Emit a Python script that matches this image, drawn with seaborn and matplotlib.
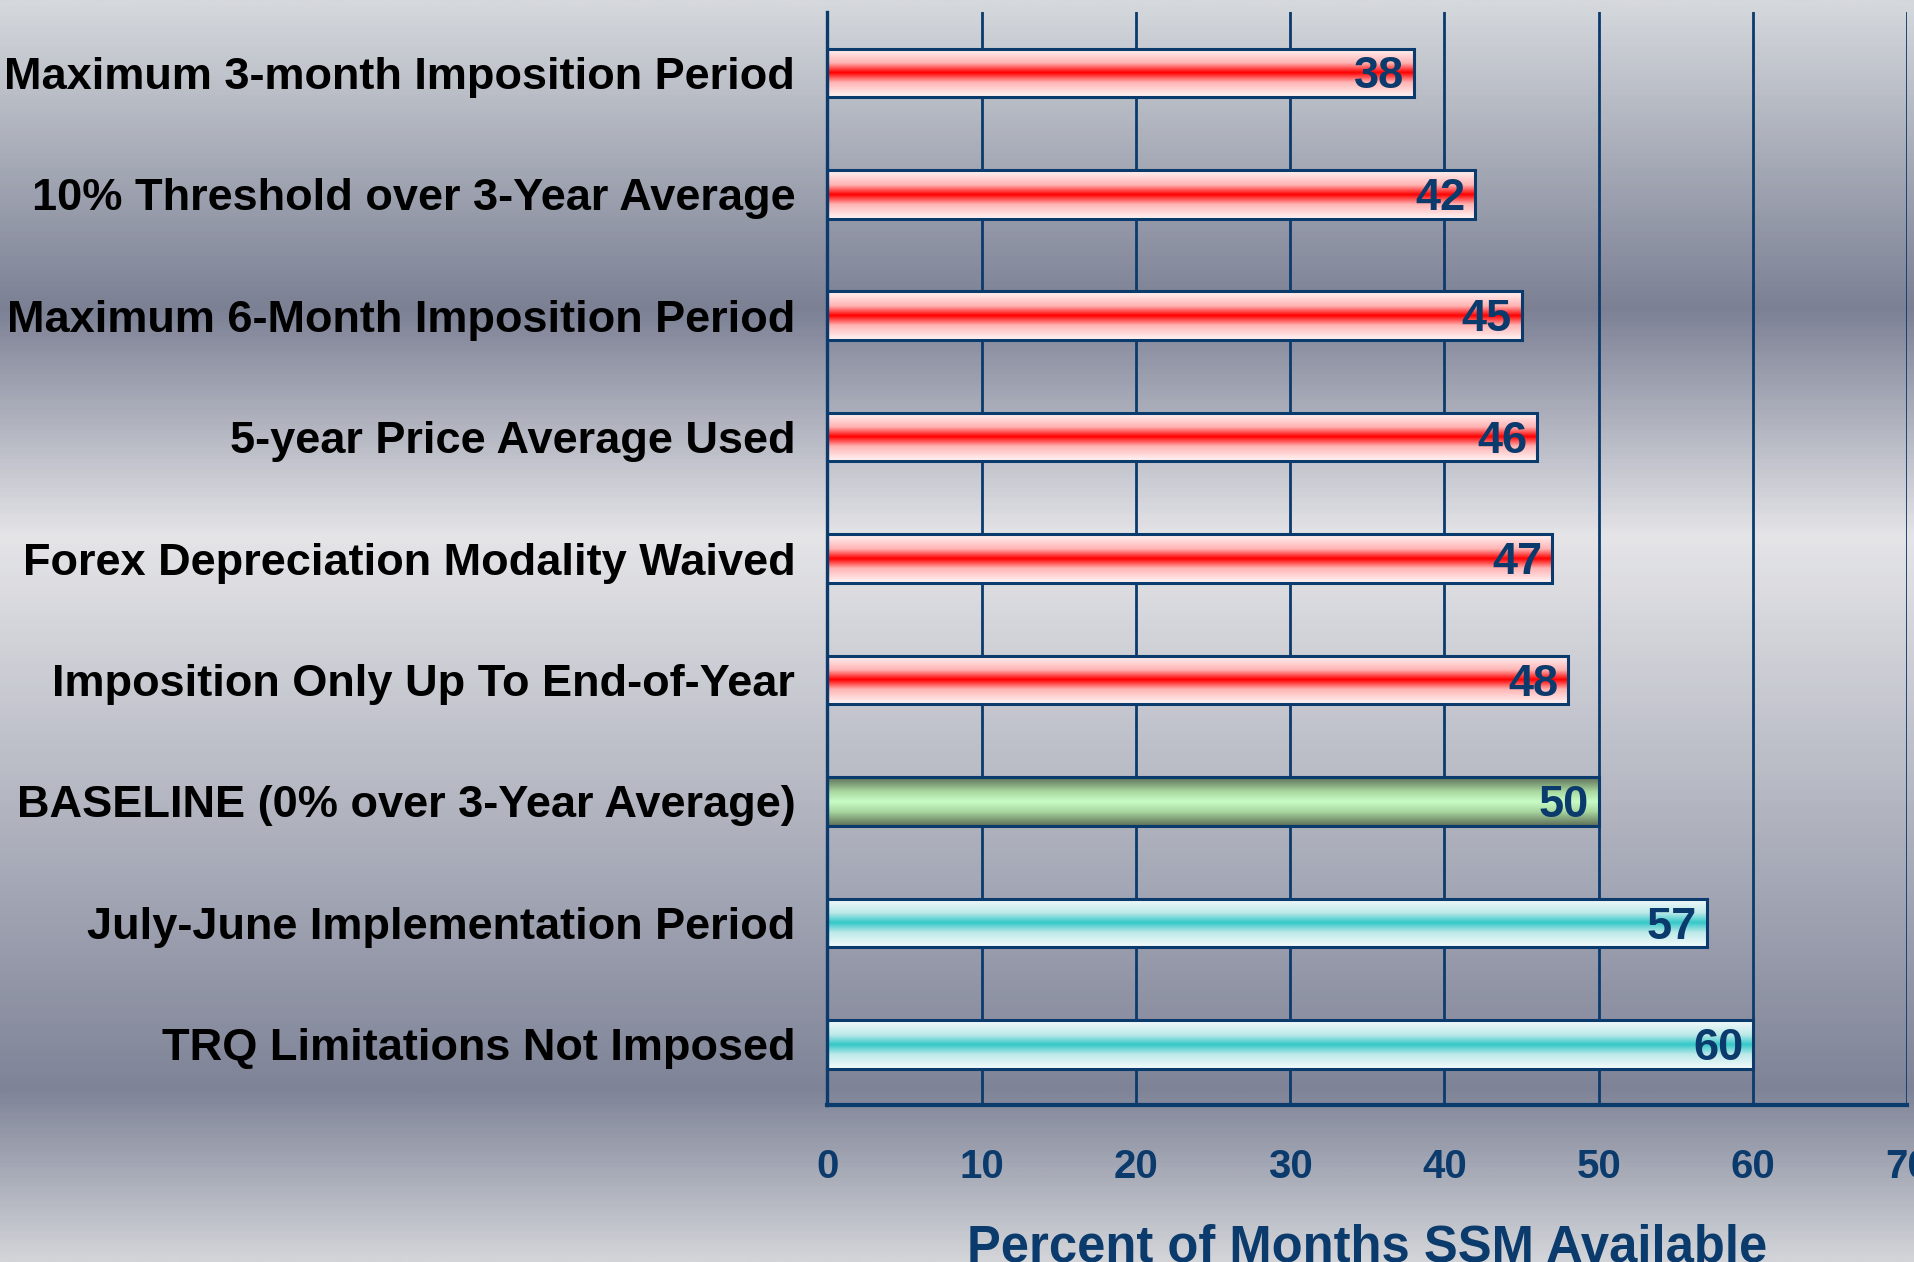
import numpy as np
import pandas as pd
import matplotlib.pyplot as plt
import seaborn as sns
from matplotlib.colors import LinearSegmentedColormap

# data, top to bottom
scenarios = [
    "Maximum 3-month Imposition Period",
    "10% Threshold over 3-Year Average",
    "Maximum 6-Month Imposition Period",
    "5-year Price Average Used",
    "Forex Depreciation Modality Waived",
    "Imposition Only Up To End-of-Year",
    "BASELINE (0% over 3-Year Average)",
    "July-June Implementation Period",
    "TRQ Limitations Not Imposed",
]
pct_months = [38, 42, 45, 46, 47, 48, 50, 57, 60]
group = ["worse"] * 6 + ["baseline"] + ["better"] * 2
x_ticks = [0, 10, 20, 30, 40, 50, 60, 70]

NAVY = "#0b3a6c"

# vertical gradients used to fill the bars (edge -> centre -> edge)
bar_cmaps = {
    "worse": LinearSegmentedColormap.from_list(
        "red", [(0, "#fff6f6"), (0.3, "#ffb4b4"), (0.5, "#ff0000"), (0.7, "#ffb4b4"), (1, "#fff6f6")]),
    "baseline": LinearSegmentedColormap.from_list(
        "green", [(0, "#5d6d56"), (0.3, "#a9d9a1"), (0.5, "#c8fcc6"), (0.7, "#a9d9a1"), (1, "#5d6d56")]),
    "better": LinearSegmentedColormap.from_list(
        "cyan", [(0, "#f6fbfb"), (0.3, "#bde9e9"), (0.5, "#34c8c8"), (0.7, "#bde9e9"), (1, "#f6fbfb")]),
}

bg_cmap = LinearSegmentedColormap.from_list(
    "bg", [(0, "#d5d8dc"), (0.242, "#7b8094"), (0.425, "#e5e5e8"),
           (0.865, "#7e8397"), (1, "#d2d4d8")])


def main():
    df = pd.DataFrame({"scenario": scenarios, "pct": pct_months, "group": group})

    sns.set_style("white")
    plt.rcParams["font.family"] = ["Liberation Sans", "DejaVu Sans"]

    fig = plt.figure(figsize=(19.15, 12.62), dpi=100)

    # background gradient over the whole slide
    bg = fig.add_axes([0, 0, 1, 1], zorder=-10)
    bg.imshow(np.linspace(0, 1, 600)[:, None], cmap=bg_cmap, aspect="auto",
              extent=[0, 1, 0, 1], origin="upper")
    bg.set_axis_off()

    ax = fig.add_axes([0.432, 0.1244, 0.564, 0.866])
    ax.patch.set_alpha(0)

    sns.barplot(data=df, x="pct", y="scenario", orient="h", width=0.4,
                facecolor="none", edgecolor=NAVY, linewidth=2.2, ax=ax, zorder=3)

    grad = np.linspace(0, 1, 200)[:, None]
    for patch, g in zip(ax.patches, df["group"]):
        x0, y0 = patch.get_x(), patch.get_y()
        w, h = patch.get_width(), patch.get_height()
        im = ax.imshow(grad, cmap=bar_cmaps[g], aspect="auto",
                       extent=[x0, x0 + w, y0 + h, y0], zorder=2)
        im.set_clip_path(patch)

    for i, v in enumerate(df["pct"]):
        ax.annotate(str(v), xy=(v, i), xytext=(-7, -3), textcoords="offset points",
                    ha="right", va="center", fontsize=32.5, fontweight="bold",
                    color=NAVY, zorder=4)

    ax.set_xlim(0, 70)
    ax.set_ylim(len(scenarios) - 0.5, -0.5)
    ax.set_xticks(x_ticks)
    ax.grid(axis="x", color=NAVY, linewidth=2)
    ax.grid(axis="y", visible=False)
    ax.set_axisbelow(True)

    for side in ["top", "right"]:
        ax.spines[side].set_visible(False)
    ax.spines["left"].set_color(NAVY)
    ax.spines["left"].set_linewidth(2.4)
    ax.spines["bottom"].set_color(NAVY)
    ax.spines["bottom"].set_linewidth(3)

    ax.tick_params(axis="x", length=9, width=2, color=NAVY, pad=22,
                   labelsize=29, labelcolor=NAVY)
    ax.tick_params(axis="y", length=0, pad=23, labelsize=32.5, labelcolor="black")
    for lbl in ax.get_xticklabels() + ax.get_yticklabels():
        lbl.set_fontweight("bold")

    ax.set_ylabel("")
    ax.set_xlabel("Percent of Months SSM Available", fontsize=36.5,
                  fontweight="bold", color=NAVY, labelpad=27)

    fig.savefig("out.png", dpi=100)
    plt.close(fig)


if __name__ == "__main__":
    main()
